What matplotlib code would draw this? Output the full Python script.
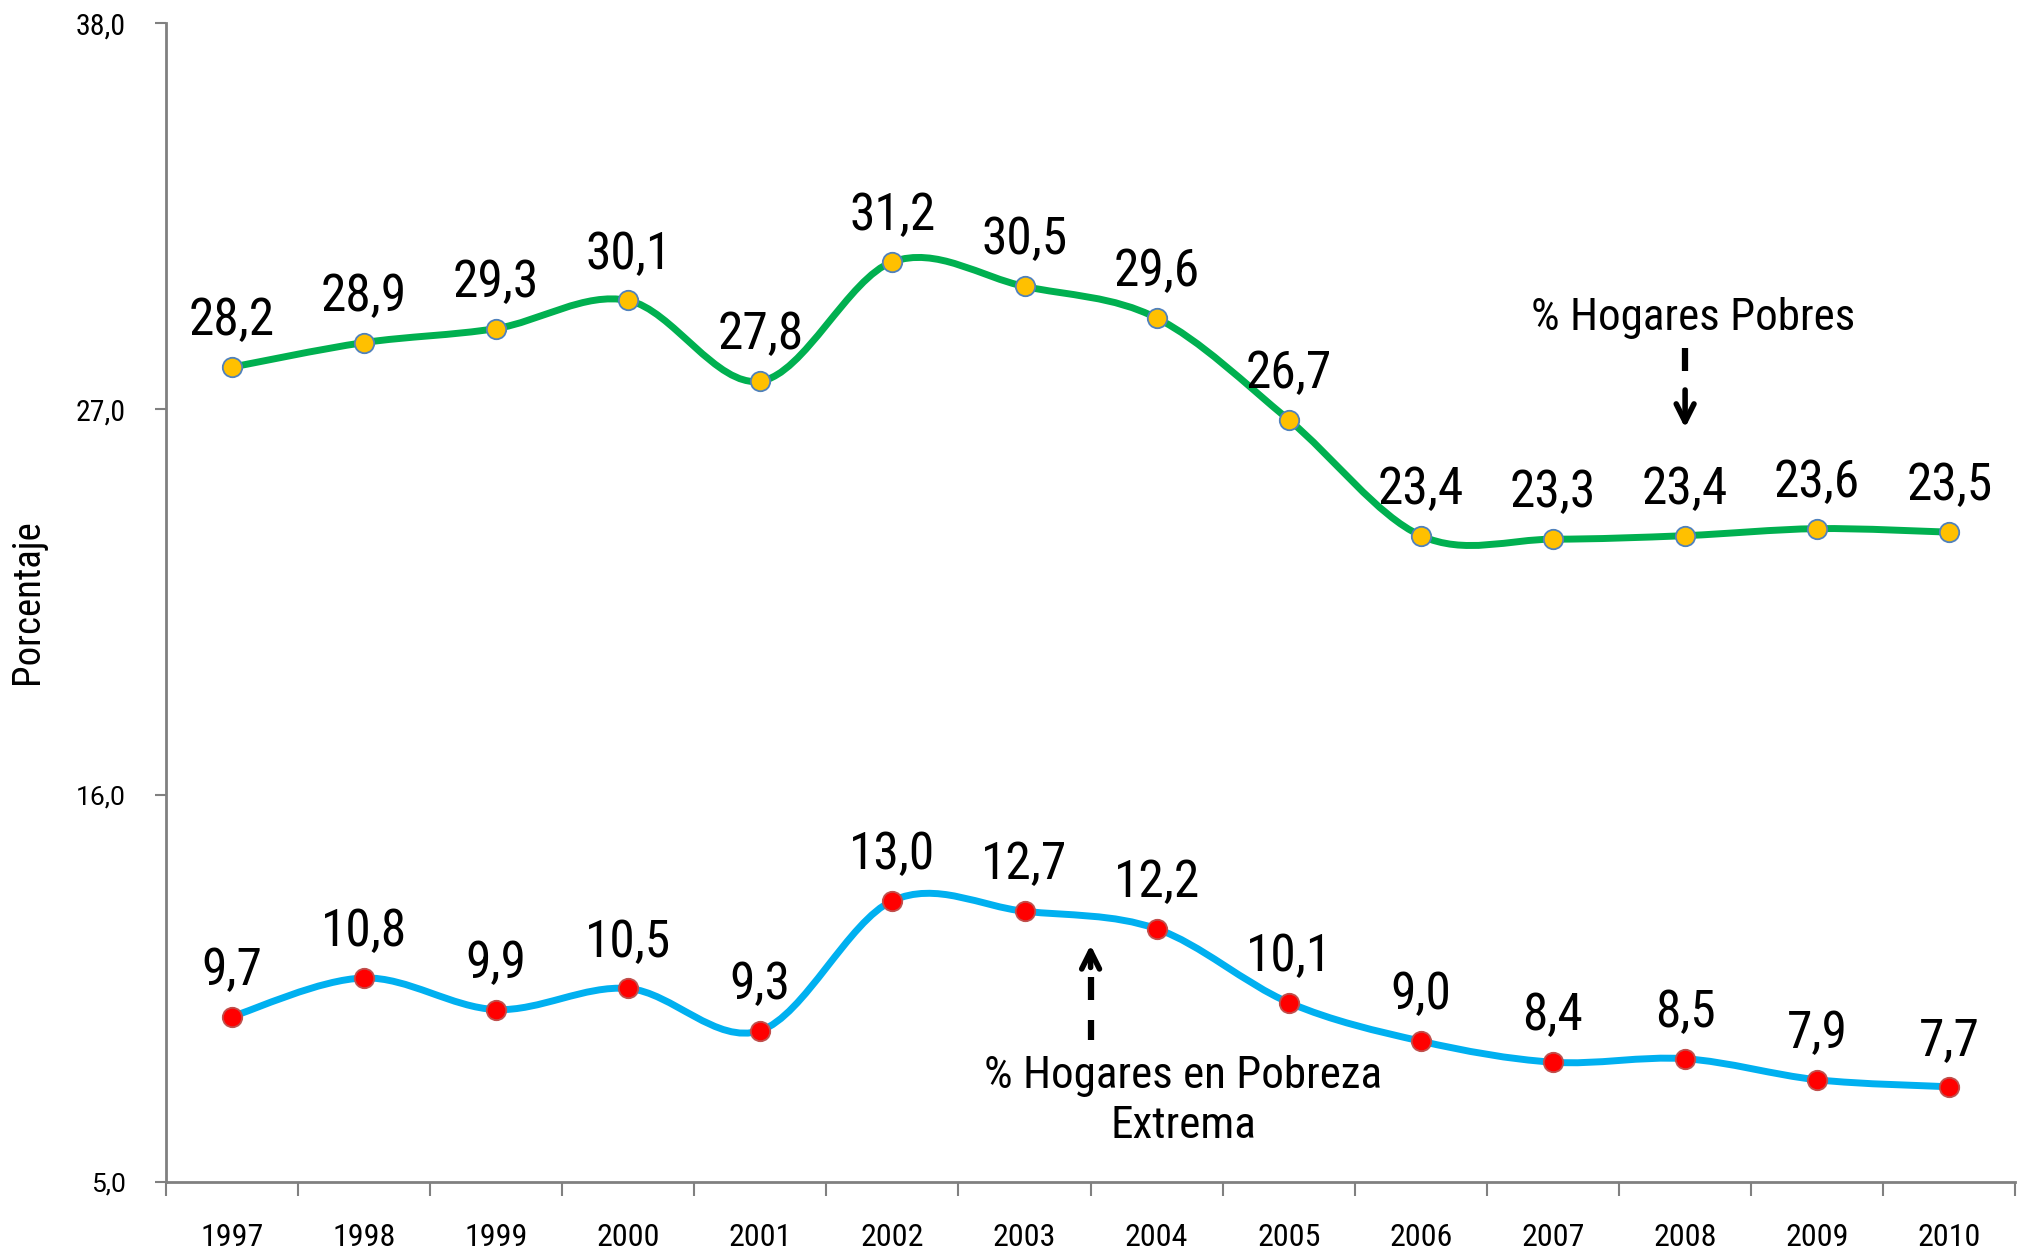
import numpy as np
import matplotlib
matplotlib.use("Agg")
import matplotlib.pyplot as plt
from matplotlib.path import Path
from matplotlib.patches import PathPatch

# Datos
anios = ['1997', '1998', '1999', '2000', '2001', '2002', '2003',
         '2004', '2005', '2006', '2007', '2008', '2009', '2010']
pobres = [28.2, 28.9, 29.3, 30.1, 27.8, 31.2, 30.5, 29.6, 26.7, 23.4, 23.3, 23.4, 23.6, 23.5]
extrema = [9.7, 10.8, 9.9, 10.5, 9.3, 13.0, 12.7, 12.2, 10.1, 9.0, 8.4, 8.5, 7.9, 7.7]
y_ticks = [5.0, 16.0, 27.0, 38.0]

plt.rcParams['font.family'] = ['Roboto Condensed', 'DejaVu Sans']


def curva_suave(x, y):
    # curva suavizada tipo Excel (Catmull-Rom como Bezier cubica)
    p = np.column_stack([x, y])
    n = len(p)
    verts = [p[0]]
    codes = [Path.MOVETO]
    for i in range(n - 1):
        p0 = p[i - 1] if i > 0 else p[i]
        p3 = p[i + 2] if i + 2 < n else p[i + 1]
        c1 = p[i] + (p[i + 1] - p0) / 6
        c2 = p[i + 1] - (p3 - p[i]) / 6
        verts += [c1, c2, p[i + 1]]
        codes += [Path.CURVE4] * 3
    return Path(verts, codes)


fig = plt.figure(figsize=(20.17, 12.51), dpi=100)
ax = fig.add_axes([0.0822, 0.0555, 0.917, 0.926])

x = np.arange(len(anios))
series = [
    (pobres, '#00B050', '#FFC000', '#4F81BD'),
    (extrema, '#00B0F0', '#FF0000', '#C0504D'),
]
for valores, c_linea, c_punto, c_borde in series:
    ax.add_patch(PathPatch(curva_suave(x, valores), fill=False, edgecolor=c_linea,
                           lw=5, capstyle='round', zorder=2))
    ax.plot(x, valores, ls='none', marker='o', ms=14, mfc=c_punto, mec=c_borde,
            mew=1.3, zorder=3)
    for xi, v in zip(x, valores):
        ax.annotate(f'{v:.1f}'.replace('.', ','), (xi, v), xytext=(0, 23),
                    textcoords='offset points', ha='center', va='baseline',
                    fontsize=37, color='black', zorder=4)

# anotacion: hogares pobres (flecha discontinua hacia abajo)
ax.text(11.06, 29.6, '% Hogares Pobres', ha='center', va='center', fontsize=32.5)
ax.vlines(11, 28.1, 28.75, color='black', lw=4.5)
ax.annotate('', xy=(11, 26.47), xytext=(11, 27.55),
            arrowprops=dict(arrowstyle='->', lw=4, color='black', mutation_scale=32,
                            shrinkA=0, shrinkB=0))

# anotacion: pobreza extrema (flecha discontinua hacia arriba)
ax.text(7.2, 7.3, '% Hogares en Pobreza\nExtrema', ha='center', va='center',
        fontsize=32.5, linespacing=1.25)
ax.vlines([6.5, 6.5], [9.04, 10.16], [9.59, 10.82], color='black', lw=4.5)
ax.annotate('', xy=(6.5, 11.74), xytext=(6.5, 11.1),
            arrowprops=dict(arrowstyle='->', lw=4, color='black', mutation_scale=32,
                            shrinkA=0, shrinkB=0))

# ejes
ax.set_xlim(-0.5, len(anios) - 0.5)
ax.set_ylim(5, 38)
ax.set_yticks(y_ticks)
ax.set_yticklabels([f'{t:.1f}'.replace('.', ',') for t in y_ticks], fontsize=21.5)
for lab in ax.get_yticklabels()[:2]:
    lab.set_family(['Roboto', 'DejaVu Sans'])
    lab.set_fontsize(19)
ax.set_xticks(x)
ax.set_xticklabels(anios, fontsize=23)
ax.set_xticks(np.arange(-0.5, len(anios)), minor=True)
ax.tick_params(axis='x', which='major', length=0, pad=30)
ax.tick_params(axis='x', which='minor', length=10, width=1.5, color='#808080')
ax.tick_params(axis='y', length=8, width=1.5, color='#808080', pad=21)
ax.set_ylabel('Porcentaje', fontsize=28)
ax.yaxis.set_label_coords(-0.065, 0.501)

for lado in ['top', 'right']:
    ax.spines[lado].set_visible(False)
for lado in ['left', 'bottom']:
    ax.spines[lado].set_color('#808080')
    ax.spines[lado].set_linewidth(2)

fig.savefig('out.png', dpi=100)
